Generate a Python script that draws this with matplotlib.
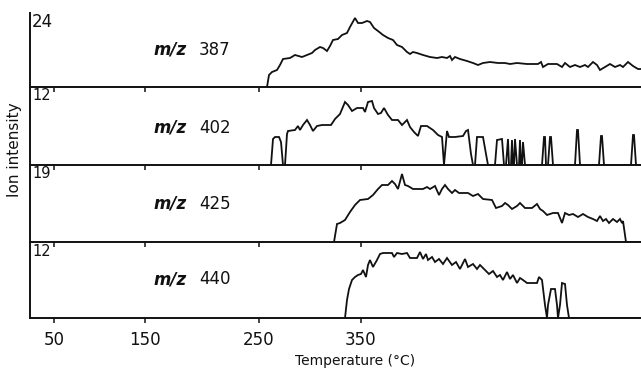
import matplotlib
matplotlib.use("Agg")
import matplotlib.pyplot as plt

# x is in scan units along the time/temperature trace (axis runs 30..641)
# y is the ion intensity above each panel's baseline (panel full scale ~ 75)
temp_tick_pos = [54, 145, 259, 361]
temp_tick_labels = ["50", "150", "250", "350"]

mz_labels = ["387", "402", "425", "440"]
full_scale = ["24", "12", "19", "12"]

x387 = [267, 269, 272, 277, 280, 283, 290, 295, 302, 307, 312, 315, 320, 323, 327,
        330, 333, 338, 342, 347, 350, 355, 358, 362, 367, 370, 374, 378, 383, 388,
        393, 397, 402, 407, 410, 413, 417, 423, 430, 437, 442, 447, 450, 452, 455,
        460, 467, 473, 478, 483, 490, 498, 505, 510, 517, 527, 538, 541, 543, 548,
        557, 562, 565, 570, 575, 580, 585, 588, 593, 597, 600, 605, 610, 615, 620,
        623, 628, 633, 638, 641]
y387 = [0, 12, 15, 17, 22, 28, 29, 32, 30, 32, 34, 37, 40, 39, 36,
        41, 47, 48, 52, 54, 60, 69, 64, 64, 66, 65, 59, 56, 52, 49,
        47, 42, 40, 35, 33, 35, 34, 32, 30, 29, 30, 29, 31, 27, 30,
        28, 26, 24, 22, 24, 25, 24, 24, 23, 24, 23, 23, 25, 20, 23,
        23, 20, 24, 20, 22, 20, 22, 20, 25, 22, 17, 20, 23, 20, 22,
        20, 25, 21, 18, 18]

x402 = [271, 273, 275, 279, 281, 283, 285, 287, 288, 295, 298, 300, 303, 307, 310,
        313, 317, 322, 331, 335, 340, 345, 348, 352, 357, 363, 365, 368, 372, 374,
        378, 381, 384, 388, 392, 398, 402, 407, 410, 414, 418, 421, 427, 433, 438,
        442, 444, 447, 449, 455, 463, 466, 468, 471, 473, 475, 477, 483, 486, 488,
        495, 497, 502, 504, 506, 508, 509, 511, 512, 513, 514, 515, 517, 519, 520,
        521, 522, 523, 525, 542, 544, 545, 546, 548, 550, 551, 553, 575, 577, 578,
        580, 599, 601, 602, 604, 631, 633, 634, 636, 641]
y402 = [0, 26, 28, 28, 23, 0, 0, 31, 34, 35, 39, 35, 40, 45, 40,
        34, 39, 40, 40, 46, 51, 63, 60, 54, 57, 57, 53, 63, 64, 57,
        51, 52, 57, 50, 45, 45, 40, 45, 38, 33, 29, 39, 39, 35, 30,
        28, 0, 34, 28, 28, 29, 34, 35, 11, 0, 0, 28, 28, 11, 0,
        0, 25, 26, 0, 0, 26, 0, 0, 25, 0, 0, 26, 0, 0, 25,
        0, 0, 23, 0, 0, 28, 28, 0, 0, 28, 28, 0, 0, 35, 35,
        0, 0, 29, 29, 0, 0, 30, 30, 0, 0]

x425 = [334, 337, 340, 345, 350, 355, 360, 368, 373, 378, 382, 388, 392, 395, 398,
        402, 405, 408, 413, 423, 427, 430, 435, 439, 442, 445, 448, 452, 455, 459,
        468, 473, 478, 483, 492, 496, 502, 505, 508, 512, 517, 520, 525, 532, 537,
        540, 543, 547, 553, 558, 562, 565, 569, 573, 578, 583, 588, 593, 597, 600,
        603, 606, 609, 613, 617, 620, 622, 623, 626, 641]
y425 = [0, 18, 19, 22, 30, 37, 42, 43, 47, 53, 57, 57, 61, 58, 53,
        68, 57, 56, 53, 53, 55, 53, 56, 47, 53, 57, 53, 49, 52, 49,
        49, 46, 48, 43, 42, 34, 36, 39, 37, 33, 36, 39, 34, 34, 38,
        33, 31, 27, 29, 29, 19, 29, 27, 28, 25, 28, 25, 23, 21, 26,
        21, 23, 19, 23, 20, 23, 19, 21, 0, 0]

x440 = [345, 347, 349, 352, 355, 358, 361, 363, 366, 368, 370, 373, 377, 380, 383,
        392, 394, 397, 402, 407, 410, 417, 420, 423, 426, 428, 432, 435, 439, 443,
        447, 452, 456, 460, 465, 468, 473, 477, 480, 485, 489, 493, 497, 500, 503,
        507, 510, 513, 517, 520, 523, 527, 537, 539, 542, 545, 547, 548, 551, 555,
        557, 558, 560, 562, 565, 567, 569, 641]
y440 = [0, 18, 29, 38, 41, 43, 44, 48, 41, 53, 58, 51, 58, 64, 65,
        65, 61, 65, 64, 65, 60, 60, 66, 59, 64, 58, 61, 56, 59, 54,
        60, 53, 56, 49, 59, 51, 54, 49, 53, 48, 44, 47, 41, 43, 38,
        46, 39, 43, 35, 40, 38, 35, 35, 41, 38, 13, 0, 13, 29, 29,
        13, 0, 13, 35, 34, 13, 0, 0]

traces = [(x387, y387), (x402, y402), (x425, y425), (x440, y440)]

# panel edges in pixels from the top of the figure
W, H = 641, 369
tops = [13, 87, 165, 242]
bottoms = [87, 165, 242, 318]
label_y = [37, 37, 38, 39]

INK = "#111111"

fig = plt.figure(figsize=(W / 100, H / 100), dpi=100)
fig.patch.set_facecolor("white")

for i, (xs, ys) in enumerate(traces):
    top, bot = tops[i], bottoms[i]
    ax = fig.add_axes([30 / W, 1 - bot / H, (W - 30) / W, (bot - top) / H])
    ax.plot(xs, ys, color=INK, lw=1.3, solid_joinstyle="miter")
    ax.set_xlim(30, 641)
    ax.set_ylim(0, bot - top)
    for s in ("top", "right"):
        ax.spines[s].set_visible(False)
    for s in ("left", "bottom"):
        ax.spines[s].set_linewidth(1.4)
        ax.spines[s].set_color(INK)
    ax.set_yticks([])
    ax.set_xticks(temp_tick_pos)
    ax.tick_params(axis="x", direction="out", length=3.5, width=1.1, color=INK,
                   labelsize=12, pad=6, labelcolor=INK)
    if i < 3:
        ax.set_xticklabels([])
    else:
        ax.set_xticklabels(temp_tick_labels)
    ax.patch.set_alpha(0)

    ax.text(32, (bot - top) - 9, full_scale[i], ha="left", va="center",
            fontsize=12 if i == 0 else 10.5, color=INK)
    ax.text(153, label_y[i], "m/z", ha="left", va="center", fontsize=12,
            style="italic", fontweight="semibold", color=INK)
    ax.text(199, label_y[i], mz_labels[i], ha="left", va="center", fontsize=12,
            color=INK)

fig.text(15 / W, 1 - 150 / H, "Ion intensity", rotation=90, ha="center",
         va="center", fontsize=11, color=INK)
fig.text(355 / W, 1 - 361 / H, "Temperature (°C)", ha="center", va="center",
         fontsize=10, color=INK)

fig.savefig("out.png", dpi=100, facecolor="white")
